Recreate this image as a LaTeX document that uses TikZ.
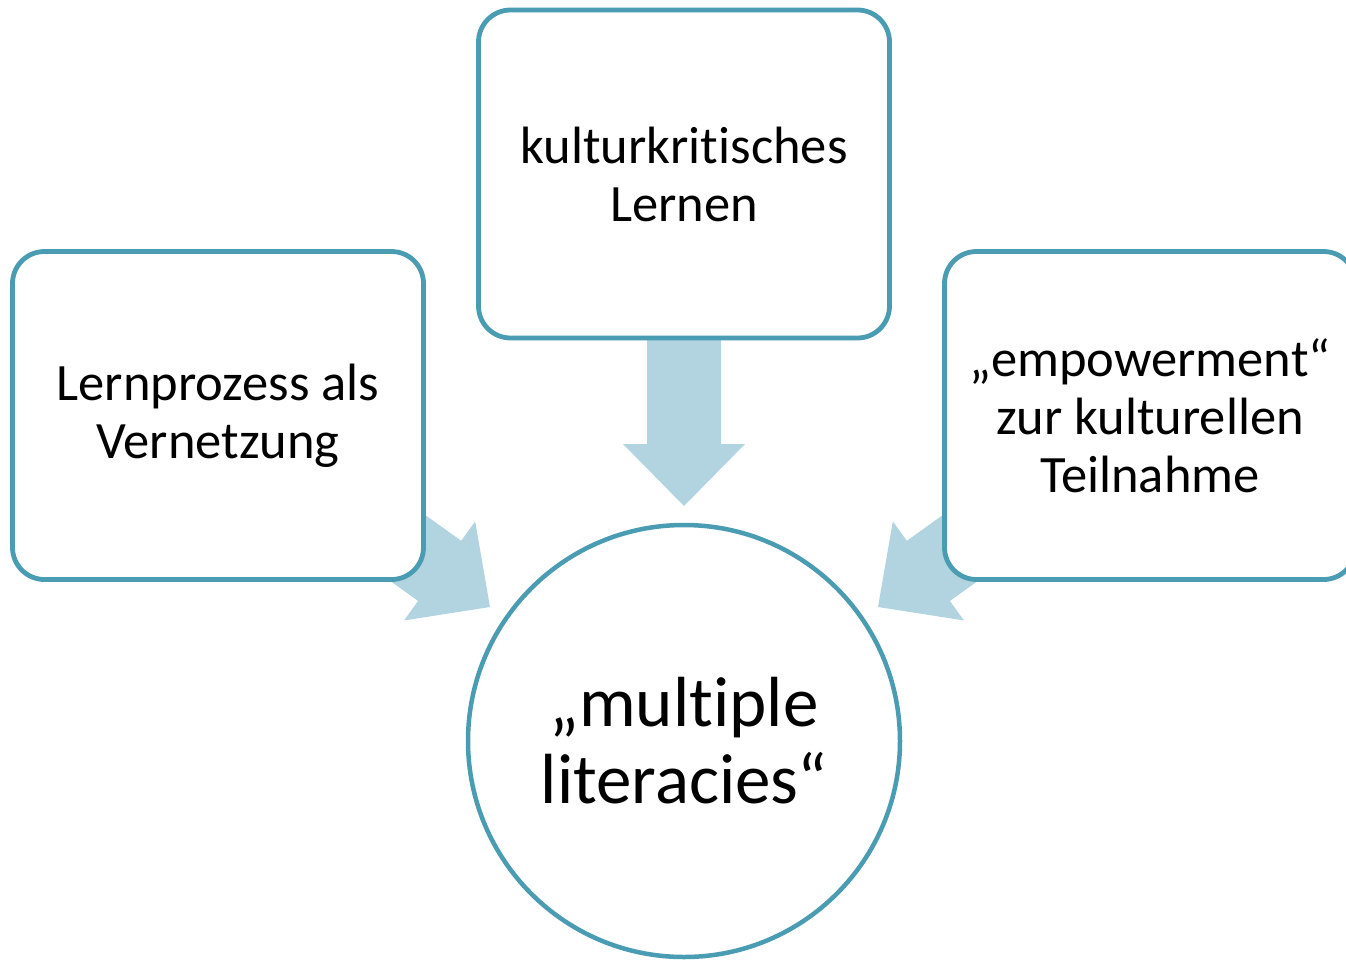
\documentclass[tikz,border=0pt]{standalone}
\usepackage{fontspec}
\setmainfont{Carlito}[Ligatures={NoCommon}]
\definecolor{edgeteal}{HTML}{4A9CB3}
\definecolor{arrowblue}{HTML}{B1D4E0}
\tikzset{
  box/.style={draw=edgeteal, line width=4.8pt, fill=white, rounded corners=32pt,
    minimum width=411pt, minimum height=328pt, inner sep=0pt, align=center,
    font=\fontsize{52.5}{58}\selectfont},
  bigcircle/.style={draw=edgeteal, line width=4.5pt, fill=white, circle,
    minimum size=432pt, inner sep=0pt, align=center,
    font=\fontsize{71}{77}\selectfont},
  blockarrow/.style={fill=arrowblue, draw=none}
}
\begin{document}
\begin{tikzpicture}[x=1pt,y=-1pt]
\useasboundingbox (0,0) rectangle (1346,959);
\clip (0,0) rectangle (1346,959);
\coordinate (tipT) at (684,506);
\coordinate (tipL) at (490,607);
\coordinate (tipR) at (878,607);
\fill[blockarrow, shift={(tipT)}, rotate=-90] (0,0) -- (-62,-61) -- (-62,-37) -- (-168,-37) -- (-168,37) -- (-62,37) -- (-62,61) -- cycle;
\fill[blockarrow, shift={(tipL)}, rotate=-35.64] (0,0) -- (-62,-61) -- (-62,-37) -- (-168,-37) -- (-168,37) -- (-62,37) -- (-62,61) -- cycle;
\fill[blockarrow, shift={(tipR)}, rotate=-144.36] (0,0) -- (-62,-61) -- (-62,-37) -- (-168,-37) -- (-168,37) -- (-62,37) -- (-62,61) -- cycle;
\node[box] (top) at (684,174) {kulturkritisches\\Lernen};
\node[box] (left) at (218,415.5) {Lernprozess als\\Vernetzung};
\node[box] (right) at (1150,415.5) {„empowerment“\\zur kulturellen\\Teilnahme};
\node[bigcircle] (center) at (684,741) {„multiple\\literacies“};
\end{tikzpicture}
\end{document}
